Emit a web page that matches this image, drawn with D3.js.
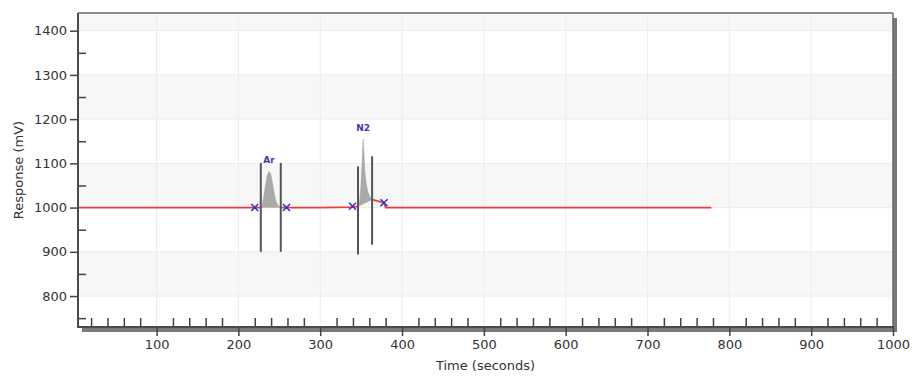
<!DOCTYPE html>
<html>
<head>
<meta charset="utf-8">
<script src="https://cdn.jsdelivr.net/npm/d3@7"></script>
<style>
  html, body { margin: 0; padding: 0; background: #fff; }
  text { font-family: "DejaVu Sans", sans-serif; }
</style>
</head>
<body>
<svg id="chart" width="912" height="378"></svg>
<script>
// ---- data ----
const signalTime = [4, 220, 227.4, 229, 231, 233, 235, 237.5, 239.5, 241.5, 243.5, 245.5, 247.5, 249.5, 251.8, 258.8, 300, 339.5, 346.2, 348, 349.5, 351, 352.4, 353.5, 354.5, 356, 357.5, 359, 361, 363.4, 378, 380, 778];
const signalMv   = [1000, 1000, 1000, 1006, 1025, 1050, 1072, 1082, 1076, 1058, 1036, 1018, 1008, 1003, 1000, 1000, 1000, 1001, 1003, 1012, 1045, 1095, 1155, 1125, 1085, 1058, 1042, 1032, 1024, 1018, 1011, 1000, 1000];

const peakNames = ["Ar", "N2"];
const peakStart = [227.4, 346.2];
const peakEnd   = [251.8, 363.4];
const peakApex  = [237.5, 352.4];
const peakApexMv = [1082, 1155];

const markerTime = [227.4, 251.8, 346.2, 363.4];
const markerLow  = [900, 900, 894, 916];
const markerHigh = [1101, 1101, 1093, 1116];

const crossTime = [220, 258.8, 339.5, 378];
const crossMv   = [1000, 1000, 1003, 1011];

const yMajorTicks = [800, 900, 1000, 1100, 1200, 1300, 1400];
const yMinorTicks = [750, 850, 950, 1050, 1150, 1250, 1350];
const xMajorTicks = [100, 200, 300, 400, 500, 600, 700, 800, 900, 1000];
const xMinorTicks = d3.range(20, 1000, 20).filter(v => v % 100 !== 0);
const bandEdges = [730, 800, 900, 1000, 1100, 1200, 1300, 1400, 1440];

// ---- layout ----
const L = 78, T = 13, R = 893, B = 327;
const svg = d3.select("#chart");
const x = d3.scaleLinear().domain([4, 1000]).range([L, R]);
const y = d3.scaleLinear().domain([730, 1440]).range([B, T]);

// shadow
svg.append("rect").attr("x", L + 4).attr("y", T + 5).attr("width", R - L).attr("height", B - T)
  .attr("fill", "#7a7a7a");
svg.append("rect").attr("x", L).attr("y", T).attr("width", R - L).attr("height", B - T)
  .attr("fill", "#fff");

// bands
const bands = d3.pairs(bandEdges);
svg.append("g").selectAll("rect").data(bands).join("rect")
  .attr("x", L).attr("width", R - L)
  .attr("y", d => y(d[1])).attr("height", d => y(d[0]) - y(d[1]))
  .attr("fill", d => (Math.floor(d[0] / 100) % 2 === 0) ? "#f7f7f7" : "#ffffff");

// grid
svg.append("g").selectAll("line").data(yMajorTicks).join("line")
  .attr("x1", L).attr("x2", R).attr("y1", d => y(d)).attr("y2", d => y(d))
  .attr("stroke", "#ececec").attr("stroke-width", 1);
svg.append("g").selectAll("line").data(xMajorTicks.filter(v => v < 1000)).join("line")
  .attr("y1", T).attr("y2", B).attr("x1", d => x(d)).attr("x2", d => x(d))
  .attr("stroke", "#ececec").attr("stroke-width", 1);

// frame top / right
svg.append("line").attr("x1", L).attr("x2", R).attr("y1", T).attr("y2", T)
  .attr("stroke", "#6a6a6a").attr("stroke-width", 1.5);
svg.append("line").attr("x1", R).attr("x2", R).attr("y1", T).attr("y2", B)
  .attr("stroke", "#6a6a6a").attr("stroke-width", 1.5);

// signal
const pts = signalTime.map((t, i) => ({t, v: signalMv[i]}));
const inPeak = t => peakStart.some((s, i) => t > s && t < peakEnd[i]);
svg.append("path").datum(pts)
  .attr("d", d3.line().defined(d => !inPeak(d.t)).x(d => x(d.t)).y(d => y(d.v)))
  .attr("fill", "none").attr("stroke", "#ee3b3b").attr("stroke-width", 1.8);

// peaks (gray fill)
peakNames.forEach((name, i) => {
  const s = peakStart[i], e = peakEnd[i];
  const seg = pts.filter(d => d.t >= s && d.t <= e);
  const v0 = seg[0].v, v1 = seg[seg.length - 1].v;
  const base = t => v0 + (v1 - v0) * (t - s) / (e - s);
  svg.append("path").datum(seg)
    .attr("d", d3.area().x(d => x(d.t)).y0(d => y(base(d.t))).y1(d => y(d.v)))
    .attr("fill", "#a9a9a9").attr("stroke", "#a9a9a9").attr("stroke-width", 0.5);
  svg.append("text").attr("x", x(peakApex[i])).attr("y", y(peakApexMv[i]) - 8)
    .attr("text-anchor", "middle").attr("font-size", 9).attr("font-weight", "bold")
    .attr("fill", "#3b3bb0").text(name);
});

// marker lines
svg.append("g").selectAll("line").data(markerTime).join("line")
  .attr("x1", d => x(d)).attr("x2", d => x(d))
  .attr("y1", (d, i) => y(markerLow[i])).attr("y2", (d, i) => y(markerHigh[i]))
  .attr("stroke", "#555").attr("stroke-width", 2);

// crosses
svg.append("g").selectAll("path").data(crossTime).join("path")
  .attr("transform", (d, i) => `translate(${x(d)},${y(crossMv[i])})`)
  .attr("d", "M-3.5,-3.5L3.5,3.5M-3.5,3.5L3.5,-3.5")
  .attr("stroke", "#3030d0").attr("stroke-width", 1.5).attr("fill", "none");

// axes
const yAx = svg.append("g").attr("transform", `translate(${L},0)`)
  .call(d3.axisLeft(y).tickValues(yMajorTicks).tickSize(8).tickPadding(3).tickFormat(d3.format("d")));
const yMin = svg.append("g").attr("transform", `translate(${L},0)`)
  .call(d3.axisRight(y).tickValues(yMinorTicks).tickSize(8).tickFormat(""));
const xAx = svg.append("g").attr("transform", `translate(0,${B})`)
  .call(d3.axisBottom(x).tickValues(xMajorTicks).tickSize(9).tickPadding(4).tickFormat(d3.format("d")));
const xMin = svg.append("g").attr("transform", `translate(0,${B})`)
  .call(d3.axisTop(x).tickValues(xMinorTicks).tickSize(9).tickFormat(""));

[yAx, yMin, xAx, xMin].forEach(g => {
  g.select(".domain").remove();
  g.selectAll("line").attr("stroke", "#444").attr("stroke-width", 1.5);
  g.selectAll("text").attr("font-family", "DejaVu Sans, sans-serif").attr("font-size", 13).attr("fill", "#333");
});

// axis lines
svg.append("line").attr("x1", L).attr("x2", L).attr("y1", T).attr("y2", B + 1)
  .attr("stroke", "#4a4a4a").attr("stroke-width", 2);
svg.append("line").attr("x1", L).attr("x2", R + 1).attr("y1", B).attr("y2", B)
  .attr("stroke", "#4a4a4a").attr("stroke-width", 2);

// axis titles
svg.append("text").attr("x", (L + R) / 2).attr("y", 370).attr("text-anchor", "middle")
  .attr("font-size", 13).attr("fill", "#333").text("Time (seconds)");
svg.append("text").attr("transform", `translate(23,${(T + B) / 2}) rotate(-90)`)
  .attr("text-anchor", "middle").attr("font-size", 13).attr("fill", "#333").text("Response (mV)");
</script>
</body>
</html>
